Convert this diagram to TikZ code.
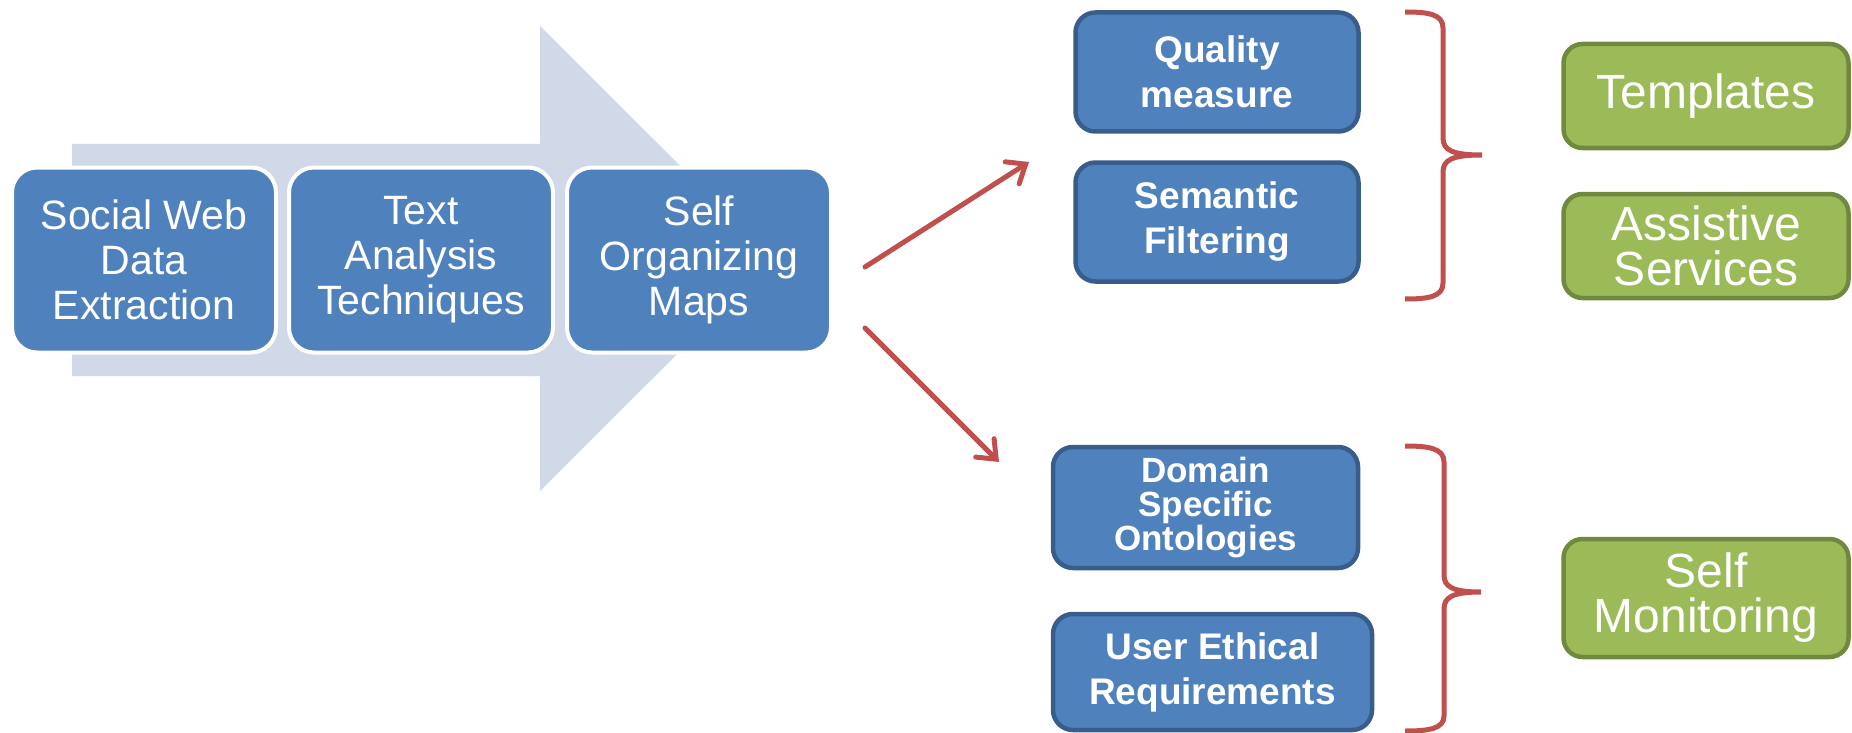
\documentclass[tikz,border=0pt]{standalone}
\usepackage{fontspec}
\setmainfont{Liberation Sans}
\usetikzlibrary{arrows.meta}
\definecolor{bigarrow}{HTML}{D1D9E8}
\definecolor{bfill}{HTML}{4F81BD}
\definecolor{bline}{HTML}{385D8A}
\definecolor{gfill}{HTML}{9BBB59}
\definecolor{gline}{HTML}{71893F}
\definecolor{redl}{HTML}{C0504D}
\begin{document}
\begin{tikzpicture}[x=1pt,y=-1pt,
  stagebox/.style={draw=white, line width=4pt, fill=bfill, rounded corners=25pt, text=white, align=center,
    minimum width=264pt, minimum height=185pt, inner sep=0pt, font=\fontsize{41}{45}\selectfont},
  itembox/.style={draw=bline, line width=4.5pt, fill=bfill, rounded corners=20pt, text=white, align=center,
    inner sep=0pt, font=\bfseries\fontsize{37}{45}\selectfont},
  resbox/.style={draw=gline, line width=4.5pt, fill=gfill, rounded corners=19pt, text=white, align=center,
    inner sep=0pt, minimum width=285pt, font=\fontsize{48}{45}\selectfont},
  redarrow/.style={draw=redl, line width=5pt, line cap=round, -{Straight Barb[length=16pt,width=26pt,line cap=round]}},
  brace/.style={draw=redl, line width=5pt}]
\useasboundingbox (0,0) rectangle (1852,733);
% big background arrow
\fill[bigarrow] (72,144) -- (540,144) -- (540,26) -- (773,258.5) -- (540,491) -- (540,376) -- (72,376) -- cycle;
% stage boxes
\node[stagebox] (sw) at (144,260) {Social Web\\Data\\Extraction};
\node[stagebox] (ta) at (421,260) {Text\\Analysis\\Techniques};
\node[stagebox] (som) at (699,260) {Self\\Organizing\\Maps};
% item boxes
\node[itembox, minimum width=283pt, minimum height=119pt] (qm) at (1217,72) {Quality\\measure};
\node[itembox, minimum width=283pt, minimum height=119pt] (sf) at (1217,222) {Semantic\\Filtering};
\node[itembox, minimum width=305pt, minimum height=121pt, font=\bfseries\fontsize{35}{34}\selectfont] (dso) at (1205.5,507.5) {Domain\\Specific\\Ontologies};
\node[itembox, minimum width=319pt, minimum height=116pt] (uer) at (1212.5,672) {User Ethical\\Requirements};
% result boxes
\node[resbox, minimum height=104pt] (tpl) at (1706,96) {Templates};
\node[resbox, minimum height=104pt] (as) at (1706,246) {Assistive\\Services};
\node[resbox, minimum height=118pt] (smon) at (1706,598) {Self\\Monitoring};
% red arrows
\coordinate (a1s) at (865,267);
\coordinate (a1e) at (1029,162);
\coordinate (a2s) at (865,328);
\coordinate (a2e) at (999,462);
\draw[redarrow] (a1s) -- (a1e);
\draw[redarrow] (a2s) -- (a2e);
% braces
\draw[brace] (1405,12) .. controls (1428,12) and (1443,14) .. (1443,28) -- (1443,138)
  .. controls (1443,150) and (1452,155) .. (1482,155)
  .. controls (1452,155) and (1443,160) .. (1443,172) -- (1443,283)
  .. controls (1443,297) and (1428,299) .. (1405,299);
\draw[brace] (1405,446) .. controls (1428,446) and (1444,448) .. (1444,462) -- (1444,575)
  .. controls (1444,587) and (1453,592) .. (1481,592)
  .. controls (1453,592) and (1444,597) .. (1444,609) -- (1444,716)
  .. controls (1444,729) and (1428,731) .. (1405,731);
\end{tikzpicture}
\end{document}
